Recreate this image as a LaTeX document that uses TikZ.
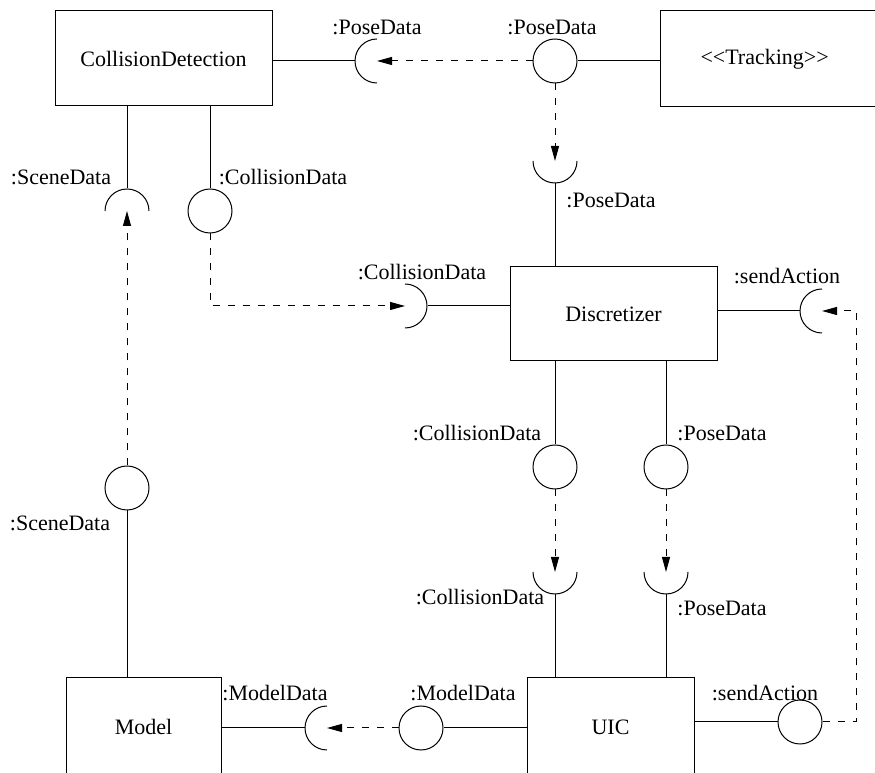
\documentclass[tikz,border=0pt]{standalone}
\usepackage{fontspec}
\setmainfont{Liberation Serif}
\usetikzlibrary{arrows.meta,positioning}
\tikzset{
  comp/.style={draw,rectangle,inner sep=0pt},
  ball/.style={draw,circle,minimum size=44pt,inner sep=0pt},
  sock/.style={circle,minimum size=44pt,inner sep=0pt},
  dep/.style={dash pattern=on 7pt off 8pt,-{Triangle[length=15pt,width=8pt]}},
  iface/.style={inner sep=0pt}
}
\begin{document}
\begin{tikzpicture}[x=1pt,y=1pt,line width=1pt,font=\fontsize{22}{26}\selectfont]
  \clip (0,0) rectangle (875,773);
  % components
  \node[comp,minimum width=217pt,minimum height=95pt] (cd) at (163.5,714.5) {CollisionDetection};
  \node[comp,anchor=west,inner xsep=40pt,text width=180pt,align=left,minimum height=96pt] (track) at (660,714) {<\kern0pt<Tracking>\kern0pt>};
  \node[comp,minimum width=207pt,minimum height=94pt] (disc) at (613.5,459) {Discretizer};
  \node[comp,minimum width=155pt,minimum height=98pt] (model) at (143.5,46) {Model};
  \node[comp,minimum width=167pt,minimum height=98pt] (uic) at (610.5,46) {UIC};
  % provided interfaces
  \node[ball] (bPoseTr) at (555,712) {};
  \node[ball] (bCollCD) at (210,562) {};
  \node[ball] (bSceneM) at (127,285) {};
  \node[ball] (bCollD) at (555,306) {};
  \node[ball] (bPoseD) at (666,306) {};
  \node[ball] (bModelU) at (421,45) {};
  \node[ball] (bSendU) at (800,51) {};
  % required interfaces
  \node[sock] (sPoseCD) at (377,712) {};
  \node[sock] (sPoseD) at (555,612) {};
  \node[sock] (sSceneCD) at (127,562) {};
  \node[sock] (sCollD) at (405,467) {};
  \node[sock] (sSendD) at (822,462) {};
  \node[sock] (sCollU) at (555,201) {};
  \node[sock] (sPoseU) at (666,201) {};
  \node[sock] (sModelM) at (327,45) {};
  \foreach \s/\a in {sPoseCD/90,sPoseD/180,sSceneCD/0,sCollD/270,sSendD/90,sCollU/180,sPoseU/180,sModelM/90}
    \draw (\s.center) ++(\a:22pt) arc[start angle=\a,delta angle=180,radius=22pt];
  \coordinate (sendturn) at (856,462);
  % assembly lines
  \draw (cd.east |- sPoseCD) -- (sPoseCD.west);
  \draw (bPoseTr.east) -- (track.west |- bPoseTr);
  \draw (sPoseD.south) -- (sPoseD.south |- disc.north);
  \draw (cd.south -| sSceneCD) -- (sSceneCD.north);
  \draw (cd.south -| bCollCD) -- (bCollCD.north);
  \draw (bSceneM.south) -- (bSceneM.south |- model.north);
  \draw (sCollD.east) -- (sCollD.east -| disc.west);
  \draw (disc.east |- sSendD) -- (sSendD.west);
  \draw (disc.south -| bCollD) -- (bCollD.north);
  \draw (disc.south -| bPoseD) -- (bPoseD.north);
  \draw (sCollU.south) -- (sCollU.south |- uic.north);
  \draw (sPoseU.south) -- (sPoseU.south |- uic.north);
  \draw (uic.west |- bModelU) -- (bModelU.east);
  \draw (sModelM.west) -- (sModelM.west -| model.east);
  \draw (uic.east |- bSendU) -- (bSendU.west);
  % dependencies
  \draw[dep] (bPoseTr.west) -- (sPoseCD.center);
  \draw[dep] (bPoseTr.south) -- (sPoseD.center);
  \draw[dep] (bSceneM.north) -- (sSceneCD.center);
  \draw[dep] (bCollCD.south) |- (sCollD.center);
  \draw[dep] (bCollD.south) -- (sCollU.center);
  \draw[dep] (bPoseD.south) -- (sPoseU.center);
  \draw[dep] (bModelU.west) -- (sModelM.center);
  \draw[dep] (bSendU.east) -| (sendturn) -- (sSendD.center);
  % interface labels
  \node[iface] (lPoseCD) at (377,746) {:PoseData};
  \node[iface] (lPoseTr) at (552,746) {:PoseData};
  \node[iface] (lSceneCD) at (61,596) {:SceneData};
  \node[iface] (lCollCD) at (283,596) {:CollisionData};
  \node[iface] (lPoseD) at (611,573) {:PoseData};
  \node[iface] (lCollD) at (422,501) {:CollisionData};
  \node[iface] (lSendD) at (787,497) {:sendAction};
  \node[iface] (lCollDb) at (477,340) {:CollisionData};
  \node[iface] (lPoseDb) at (722,340) {:PoseData};
  \node[iface] (lCollU) at (480,176) {:CollisionData};
  \node[iface] (lPoseU) at (722,165) {:PoseData};
  \node[iface] (lSceneM) at (60,250) {:SceneData};
  \node[iface] (lModelM) at (275,80) {:ModelData};
  \node[iface] (lModelU) at (463,80) {:ModelData};
  \node[iface] (lSendU) at (765,80) {:sendAction};
\end{tikzpicture}
\end{document}
